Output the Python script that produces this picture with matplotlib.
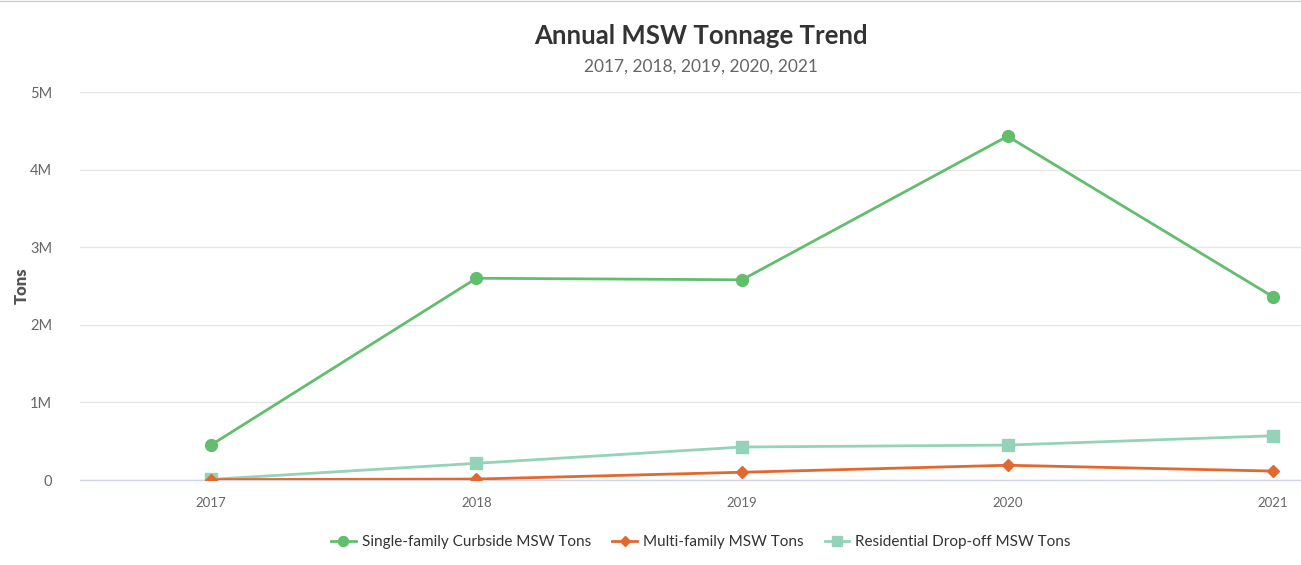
import matplotlib
matplotlib.use("Agg")
import matplotlib.pyplot as plt
from matplotlib.lines import Line2D
from matplotlib.ticker import FuncFormatter

years = ["2017", "2018", "2019", "2020", "2021"]
single_family = [450000, 2600000, 2580000, 4430000, 2360000]
multi_family = [5000, 12000, 100000, 190000, 115000]
dropoff = [8000, 215000, 425000, 450000, 570000]

series_names = ["Single-family Curbside MSW Tons", "Multi-family MSW Tons", "Residential Drop-off MSW Tons"]
colors = ["#62bd6d", "#e2682f", "#94d3b8"]
markers = ["o", "D", "s"]
msizes = [8.5, 6.5, 8.5]

plt.rcParams['font.family'] = ['Lato', 'DejaVu Sans']

W, H = 1301, 565
fig = plt.figure(figsize=(W / 100, H / 100), dpi=100)
ax = fig.add_axes([80 / W, (H - 480) / H, (W - 80) / W, (480 - 92) / H])

x = list(range(len(years)))
for vals, c, m, ms, name in zip([single_family, multi_family, dropoff][::-1], colors[::-1], markers[::-1], msizes[::-1], series_names[::-1]):
    ax.plot(x, vals, color=c, marker=m, markersize=ms, linewidth=2, label=name, zorder=3)

handles = [Line2D([0], [0], color=c, marker=m, markersize=ms * 0.85, linewidth=2)
           for c, m, ms in zip(colors, markers, msizes)]

ax.set_xlim(-0.493, 4.105)
ax.set_ylim(0, 5000000)
ax.set_yticks([0, 1e6, 2e6, 3e6, 4e6, 5e6])
ax.yaxis.set_major_formatter(FuncFormatter(lambda v, p: "0" if v == 0 else f"{int(v / 1e6)}M"))
ax.set_xticks(x)
ax.set_xticklabels(years)
ax.grid(axis="y", color="#e6e6e6", linewidth=1)
ax.set_axisbelow(True)
for s in ["top", "right", "left"]:
    ax.spines[s].set_visible(False)
ax.spines["bottom"].set_color("#ccd6eb")
ax.spines["bottom"].set_linewidth(1)
ax.tick_params(axis="y", length=0, pad=20, labelsize=10.5, labelcolor="#666666")
ax.tick_params(axis="x", length=0, pad=12, labelsize=9.5, labelcolor="#666666")
ax.set_ylabel("Tons", fontsize=12, fontweight="heavy", color="#555555")
ax.yaxis.set_label_coords(-50 / (W - 80), 0.5)

fig.text(701 / W, 1 - 36 / H, "Annual MSW Tonnage Trend", ha="center", va="center",
         fontsize=18.5, fontweight="bold", color="#333333")
fig.text(701 / W, 1 - 67 / H, "2017, 2018, 2019, 2020, 2021", ha="center", va="center",
         fontsize=12.5, color="#666666")

fig.legend(handles, series_names, loc="center", bbox_to_anchor=(701 / W, 1 - 542 / H),
           ncol=3, frameon=False, fontsize=11, handlelength=1.6, columnspacing=1.4,
           handletextpad=0.4, labelcolor="#333333")

fig.add_artist(Line2D([0, 1], [1 - 0.5 / H, 1 - 0.5 / H], transform=fig.transFigure, color="#cccccc", linewidth=1))

fig.savefig("out.png", dpi=100)
